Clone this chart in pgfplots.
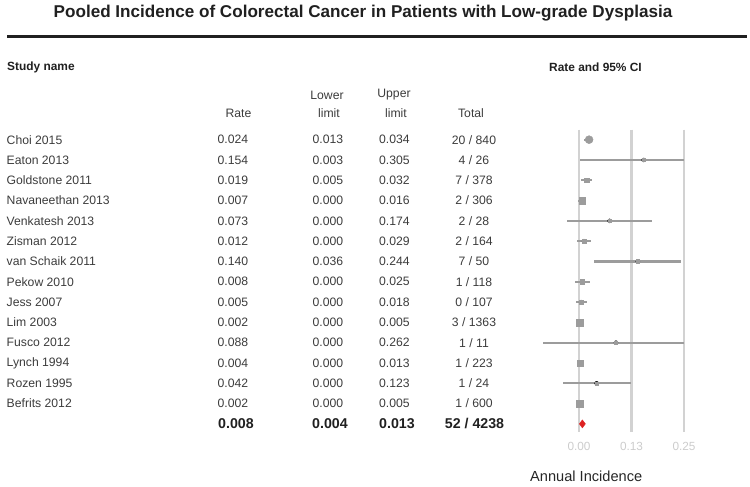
\documentclass[border=0pt]{standalone}
\usepackage{fontspec}
\setmainfont{Liberation Sans}
\usepackage{pgfplots}
\usepackage{pgfplotstable}
\pgfplotsset{compat=1.18}
\definecolor{txt}{HTML}{3C3C3C}
\definecolor{hdr}{HTML}{202020}
\definecolor{mk}{HTML}{9C9C9C}
\definecolor{gridc}{HTML}{D2D2D2}
\definecolor{tickc}{HTML}{CCCCCC}
\definecolor{sumc}{HTML}{DD2222}
\newcommand{\bodyfont}{\fontsize{12.2}{14}\selectfont}
\newcommand{\sumfont}{\fontsize{14.2}{16}\bfseries\selectfont}

% lo/hi = drawn interval (rate +/- half width, clipped at 0.25); ms = marker half size
\pgfplotstableread[col sep=comma]{
row,study,rate,lower,upper,total,lo,hi,ms
0,Choi 2015,0.024,0.013,0.034,20 / 840,0.013,0.034,4.0
1,Eaton 2013,0.154,0.003,0.305,4 / 26,0.003,0.25,1.4
2,Goldstone 2011,0.019,0.005,0.032,7 / 378,0.005,0.032,2.3
3,Navaneethan 2013,0.007,0.000,0.016,2 / 306,-0.002,0.016,3.2
4,Venkatesh 2013,0.073,0.000,0.174,2 / 28,-0.028,0.174,1.4
5,Zisman 2012,0.012,0.000,0.029,2 / 164,-0.005,0.029,2.1
6,van Schaik 2011,0.140,0.036,0.244,7 / 50,0.036,0.244,1.8
7,Pekow 2010,0.008,0.000,0.025,1 / 118,-0.009,0.025,2.2
8,Jess 2007,0.005,0.000,0.018,0 / 107,-0.008,0.018,1.9
9,Lim 2003,0.002,0.000,0.005,3 / 1363,-0.001,0.005,3.5
10,Fusco 2012,0.088,0.000,0.262,1 / 11,-0.086,0.25,1.3
11,Lynch 1994,0.004,0.000,0.013,1 / 223,-0.005,0.013,3.0
12,Rozen 1995,0.042,0.000,0.123,1 / 24,-0.039,0.123,1.5
13,Befrits 2012,0.002,0.000,0.005,1 / 600,-0.001,0.005,3.5
}\studies

\pgfplotstableread[col sep=comma]{
row,rate,lower,upper,total
14,0.008,0.004,0.013,52 / 4238
}\summary

\begin{document}
\begin{tikzpicture}
\path (0,0) rectangle (750pt,487pt);
% title and rule
\node[font=\fontsize{17.1}{20}\bfseries\selectfont, text=hdr] at (363pt,474pt) {Pooled Incidence of Colorectal Cancer in Patients with Low-grade Dysplasia};
\draw[line width=3pt, color=hdr] (7pt,450pt) -- (747pt,450pt);
\node[font=\fontsize{11.9}{14}\bfseries\selectfont, text=hdr, anchor=west, inner sep=0pt] at (7pt,420pt) {Study name};
\node[font=\fontsize{11.9}{14}\bfseries\selectfont, text=hdr, anchor=west, inner sep=0pt] at (549pt,420pt) {Rate and 95\% CI};
% column headers
\begin{scope}[every node/.style={font=\bodyfont, text=txt, inner sep=0pt}]
\node at (238.5pt,374pt) {Rate};
\node at (327pt,392pt) {Lower};
\node at (329pt,374pt) {limit};
\node at (394pt,392pt) {Upper};
\node at (396pt,374pt) {limit};
\node at (471pt,374pt) {Total};
\end{scope}
\node[font=\fontsize{14.6}{17}\selectfont, text=black!85, anchor=west, inner sep=0pt] at (530pt,11pt) {Annual Incidence};

\begin{axis}[
  at={(537pt,55pt)}, anchor=south west,
  scale only axis, width=168pt, height=302.47pt,
  xmin=-0.1, xmax=0.3, ymin=-0.5, ymax=14.4,
  y dir=reverse, clip=false,
  axis line style={draw=none},
  major tick length=0pt,
  ytick=\empty,
  xtick={0,0.125,0.25},
  xticklabels={\mbox{0.00},\mbox{0.13},\mbox{0.25}},
  xticklabel style={font=\fontsize{11.8}{13}\selectfont, text=tickc, yshift=-7pt},
  xmajorgrids,
  major grid style={color=gridc, line width=2.4pt},
]
% confidence intervals
\addplot[only marks, mark=none, forget plot,
  error bars/.cd, x dir=both, x explicit, error mark=none,
  error bar style={line width=2.1pt, color=mk}]
  table[x=rate, y=row, x error plus expr=\thisrow{hi}-\thisrow{rate}, x error minus expr=\thisrow{rate}-\thisrow{lo}]{\studies};
% square markers, size by weight
\addplot[scatter, only marks, mark=square*,
  skip coords between index={0}{1},
  point meta=\thisrow{ms},
  scatter/use mapped color={draw=mk, fill=mk},
  visualization depends on={\thisrow{ms}\as\perpointmarksize},
  scatter/@pre marker code/.append style={/tikz/mark size=\perpointmarksize}]
  table[x=rate, y=row]{\studies};
% circle marker (Choi)
\addplot[only marks, mark=*, mark size=4pt, color=mk,
  skip coords between index={1}{14}]
  table[x=rate, y=row]{\studies};
% summary diamond
\addplot[only marks, mark=diamond*, mark size=4pt, color=sumc]
  table[x=rate, y=row]{\summary};

% table text columns
\addplot[only marks, mark=none, point meta=explicit symbolic, nodes near coords,
  every node near coord/.append style={anchor=west, font=\bodyfont, text=txt, inner sep=0pt}]
  table[x expr=-1.3631, y=row, meta=study]{\studies};
\addplot[only marks, mark=none, point meta=explicit symbolic, nodes near coords,
  every node near coord/.append style={anchor=west, font=\bodyfont, text=txt, inner sep=0pt}]
  table[x expr=-0.8607, y=row, meta=rate]{\studies};
\addplot[only marks, mark=none, point meta=explicit symbolic, nodes near coords,
  every node near coord/.append style={anchor=west, font=\bodyfont, text=txt, inner sep=0pt}]
  table[x expr=-0.6345, y=row, meta=lower]{\studies};
\addplot[only marks, mark=none, point meta=explicit symbolic, nodes near coords,
  every node near coord/.append style={anchor=west, font=\bodyfont, text=txt, inner sep=0pt}]
  table[x expr=-0.4762, y=row, meta=upper]{\studies};
\addplot[only marks, mark=none, point meta=explicit symbolic, nodes near coords,
  every node near coord/.append style={anchor=center, font=\bodyfont, text=txt, inner sep=0pt}]
  table[x expr=-0.2500, y=row, meta=total]{\studies};
% summary text
\addplot[only marks, mark=none, point meta=explicit symbolic, nodes near coords,
  every node near coord/.append style={anchor=west, font=\sumfont, text=hdr, inner sep=0pt}]
  table[x expr=-0.8595, y=row, meta=rate]{\summary};
\addplot[only marks, mark=none, point meta=explicit symbolic, nodes near coords,
  every node near coord/.append style={anchor=west, font=\sumfont, text=hdr, inner sep=0pt}]
  table[x expr=-0.6357, y=row, meta=lower]{\summary};
\addplot[only marks, mark=none, point meta=explicit symbolic, nodes near coords,
  every node near coord/.append style={anchor=west, font=\sumfont, text=hdr, inner sep=0pt}]
  table[x expr=-0.4762, y=row, meta=upper]{\summary};
\addplot[only marks, mark=none, point meta=explicit symbolic, nodes near coords,
  every node near coord/.append style={anchor=center, font=\sumfont, text=hdr, inner sep=0pt}]
  table[x expr=-0.2488, y=row, meta=total]{\summary};
\end{axis}
\end{tikzpicture}
\end{document}
